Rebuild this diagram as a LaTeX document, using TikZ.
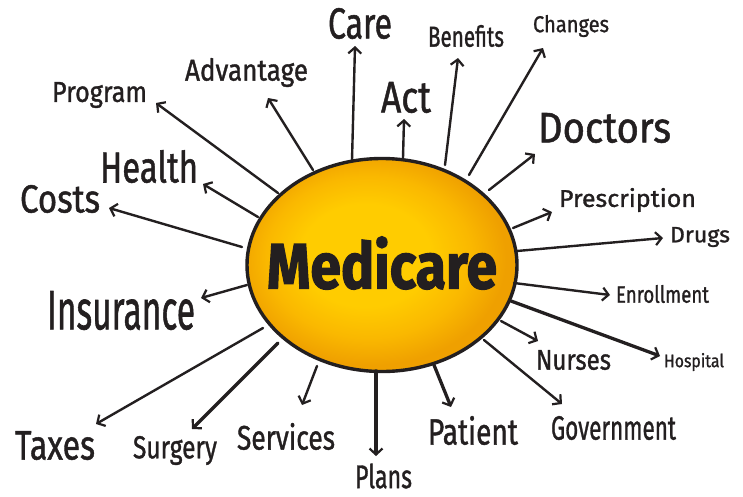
\documentclass[tikz,border=0pt]{standalone}
\usepackage{fontspec}
\setmainfont{Fira Sans}
\newfontfamily\labfont[FakeBold=1.2]{Fira Sans}
\newfontfamily\medfont[FakeBold=2]{Fira Sans Bold}
\usepackage{graphicx}
\usetikzlibrary{arrows.meta,shapes.geometric}
\definecolor{ink}{HTML}{231F20}
\definecolor{yelc}{HTML}{FFCC00}
\definecolor{yelm}{HTML}{FAB800}
\definecolor{orge}{HTML}{EFA000}
\pgfdeclareradialshading{blobshade}{\pgfpoint{-4bp}{3bp}}{color(0bp)=(yelc); color(12bp)=(yelc); color(19bp)=(yelm); color(25bp)=(orge); color(50bp)=(orge)}
\newcommand{\lab}[3]{\resizebox*{#1pt}{#2pt}{#3}}
\tikzset{
  lbl/.style={inner sep=0pt, outer sep=0pt, text=ink, font=\labfont},
  arr/.style={draw=ink, line width=2.4pt, line cap=round, -{Straight Barb[length=6pt,width=13pt,line width=2.2pt]}},
  arrthick/.style={arr, line width=3.3pt},
  blobstyle/.style={ellipse, draw=ink, line width=3.4pt, shading=blobshade, minimum width=270pt, minimum height=213pt, inner sep=0pt}
}
\begin{document}
\begin{tikzpicture}[x=1pt,y=-1pt]
\useasboundingbox[fill=white] (0,0) rectangle (743,496);
% central blob
\node[blobstyle] (blob) at (382,265) {};
\node[lbl] (med) at (382,263) {\medfont\lab{230}{53}{Medicare}};
% labels
\node[lbl] (care) at (360,23.5) {\lab{64}{31}{Care}};
\node[lbl] (act) at (406,97.5) {\lab{50}{31}{Act}};
\node[lbl] (benefits) at (466,36) {\lab{76}{22}{Benefits}};
\node[lbl] (changes) at (571,26) {\lab{76}{22}{Changes}};
\node[lbl] (doctors) at (604.5,128) {\lab{133}{30}{Doctors}};
\node[lbl] (prescription) at (627.5,200) {\lab{137}{24}{Prescription}};
\node[lbl] (drugs) at (700,237) {\lab{60}{20}{Drugs}};
\node[lbl] (enrollment) at (662.5,294) {\lab{93}{18}{Enrollment}};
\node[lbl] (hospital) at (694,362) {\lab{60}{18}{Hospital}};
\node[lbl] (nurses) at (573.5,360) {\lab{75}{20}{Nurses}};
\node[lbl] (government) at (613.5,428) {\lab{125}{24}{Government}};
\node[lbl] (patient) at (473,430.5) {\lab{90}{29}{Patient}};
\node[lbl] (plans) at (383.5,476) {\lab{57}{25}{Plans}};
\node[lbl] (services) at (286,436.5) {\lab{98}{27}{Services}};
\node[lbl] (surgery) at (175,450.5) {\lab{84}{29}{Surgery}};
\node[lbl] (taxes) at (55,445.5) {\lab{80}{29}{Taxes}};
\node[lbl] (insurance) at (121,310.5) {\lab{148}{39}{Insurance}};
\node[lbl] (costs) at (60,199) {\lab{80}{28}{Costs}};
\node[lbl] (health) at (149,166.5) {\lab{98}{33}{Health}};
\node[lbl] (program) at (99.5,95) {\lab{95}{26}{Program}};
\node[lbl] (advantage) at (246.5,72.5) {\lab{123}{29}{Advantage}};
% arrow ends
\coordinate (sCare) at (352,160);  \coordinate (tCare) at (355,46);
\coordinate (sAct) at (403,158);   \coordinate (tAct) at (404,119);
\coordinate (sBen) at (445,165);   \coordinate (tBen) at (458,58);
\coordinate (sCha) at (469,175);   \coordinate (tCha) at (543,48);
\coordinate (sDoc) at (489,190);   \coordinate (tDoc) at (535,154);
\coordinate (sPre) at (513,228);   \coordinate (tPre) at (552,212);
\coordinate (sDru) at (517,251);   \coordinate (tDru) at (663,238);
\coordinate (sEnr) at (514,283);   \coordinate (tEnr) at (610,295);
\coordinate (sHos) at (511,301);   \coordinate (tHos) at (660,356);
\coordinate (sNur) at (501,321);   \coordinate (tNur) at (538,341);
\coordinate (sGov) at (484,340);   \coordinate (tGov) at (562,404);
\coordinate (sPat) at (434,365);   \coordinate (tPat) at (451,407);
\coordinate (sPla) at (376,371);   \coordinate (tPla) at (376,456);
\coordinate (sSer) at (317,366);   \coordinate (tSer) at (302,405);
\coordinate (sSur) at (278,343);   \coordinate (tSur) at (192,429);
\coordinate (sTax) at (263,328);   \coordinate (tTax) at (96,424);
\coordinate (sIns) at (247,285);   \coordinate (tIns) at (201,298);
\coordinate (sCos) at (242,247);   \coordinate (tCos) at (109,208);
\coordinate (sHea) at (258,217);   \coordinate (tHea) at (203,184);
\coordinate (sPro) at (278,193);   \coordinate (tPro) at (156,103);
\coordinate (sAdv) at (313,170);   \coordinate (tAdv) at (268,98);
% arrows
\draw[arr] (sCare) -- (tCare);
\draw[arr] (sAct) -- (tAct);
\draw[arr] (sBen) -- (tBen);
\draw[arr] (sCha) -- (tCha);
\draw[arr] (sDoc) -- (tDoc);
\draw[arr] (sPre) -- (tPre);
\draw[arr] (sDru) -- (tDru);
\draw[arr] (sEnr) -- (tEnr);
\draw[arrthick] (sHos) -- (tHos);
\draw[arr] (sNur) -- (tNur);
\draw[arr] (sGov) -- (tGov);
\draw[arrthick] (sPat) -- (tPat);
\draw[arrthick] (sPla) -- (tPla);
\draw[arr] (sSer) -- (tSer);
\draw[arrthick] (sSur) -- (tSur);
\draw[arr] (sTax) -- (tTax);
\draw[arr] (sIns) -- (tIns);
\draw[arr] (sCos) -- (tCos);
\draw[arr] (sHea) -- (tHea);
\draw[arr] (sPro) -- (tPro);
\draw[arr] (sAdv) -- (tAdv);
\end{tikzpicture}
\end{document}
